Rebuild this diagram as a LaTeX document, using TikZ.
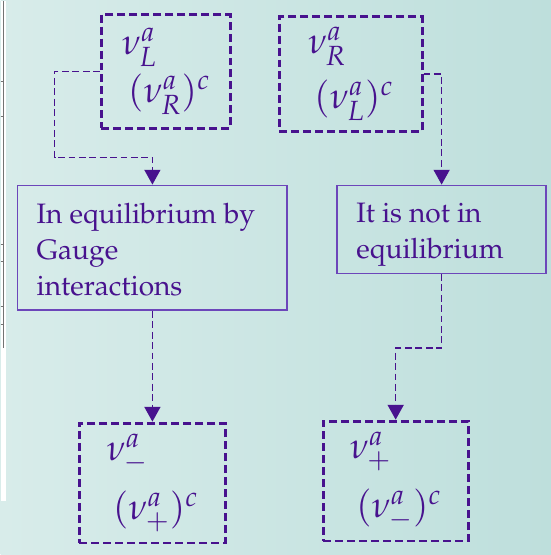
\documentclass[tikz,border=0pt]{standalone}
\usepackage[T1]{fontenc}
\usepackage{mathpazo}
\usetikzlibrary{arrows.meta,positioning,calc}

\definecolor{nuviolet}{RGB}{72,18,142}
\definecolor{boxviolet}{RGB}{108,70,186}
\definecolor{bgleft}{RGB}{216,236,234}
\definecolor{bgright}{RGB}{190,223,220}

\begin{document}
\begin{tikzpicture}[
    nubox/.style={draw=nuviolet, line width=2.1pt, dash pattern=on 0.2cm off 0.1cm, text=nuviolet, align=left, font=\fontsize{26}{33}\selectfont},
    statebox/.style={draw=boxviolet, line width=1.1pt, text=nuviolet, align=left, anchor=north west, font=\fontsize{20}{25.5}\selectfont, inner sep=0pt},
    link/.style={-{Triangle[width=0.4cm,length=0.37cm]}, draw=nuviolet, line width=1.1pt, dash pattern=on 0.17cm off 0.09cm},
]

% background
\shade[left color=bgleft, right color=bgright] (0,0) rectangle (13.775,13.875);
\fill[white] (0,13.875) rectangle (0.125,1.35);
\draw[black!55, line width=0.8pt] (0.075,13.875) -- (0.075,5.175);
\foreach \ty in {81,116,244,261,306,324}
  \draw[black!55, line width=0.8pt] (0,{(555-\ty)/40}) -- (0.075,{(555-\ty)/40});

% Particle boxes
\node[nubox, minimum width=3.225cm, minimum height=2.85cm] (nuL) at (4.1375,12.1) {$\nu_L^a$\\[1pt]$\,(\nu_R^a)^c$};
\node[nubox, minimum width=3.575cm, minimum height=2.875cm] (nuR) at (8.7625,12.0375) {$\nu_R^a$\\[6pt]$\,(\nu_L^a)^c$};

% Equilibrium boxes
\node[draw=boxviolet, line width=1.1pt, minimum width=6.75cm, minimum height=3.125cm] (gauge) at (3.8,7.6875) {};
\node[statebox, draw=none] (gaugetext) at ($(gauge.north west)+(0.48,-0.45)$) {In equilibrium by\\Gauge\\interactions};
\node[draw=boxviolet, line width=1.1pt, minimum width=5.225cm, minimum height=2.2cm] (noneq) at (11.0375,8.15) {};
\node[statebox, draw=none] (noneqtext) at ($(noneq.north west)+(0.48,-0.45)$) {It is not in\\equilibrium};

% Mass eigenstates
\node[nubox, minimum width=3.65cm, minimum height=3cm] (numinus) at (3.8,1.8) {$\nu_-^a$\\[9pt]$\,(\nu_+^a)^c$};
\node[nubox, minimum width=3.625cm, minimum height=3cm] (nuplus) at (9.8875,1.85) {$\nu_+^a$\\[9pt]$\,(\nu_-^a)^c$};

% bends
\coordinate (a1) at (1.35,12.1);
\coordinate (a2) at (1.35,9.95);
\coordinate (d1) at (11.0375,5.175);

\draw[link] (nuL.west) -- (a1) -- (a2) -| (gauge.north);
\draw[link] (nuR.east) -| (noneq.north);
\draw[link] (gauge.south) -- (numinus.north);
\draw[link] (noneq.south) -- (d1) -| (nuplus.north);

\end{tikzpicture}
\end{document}
